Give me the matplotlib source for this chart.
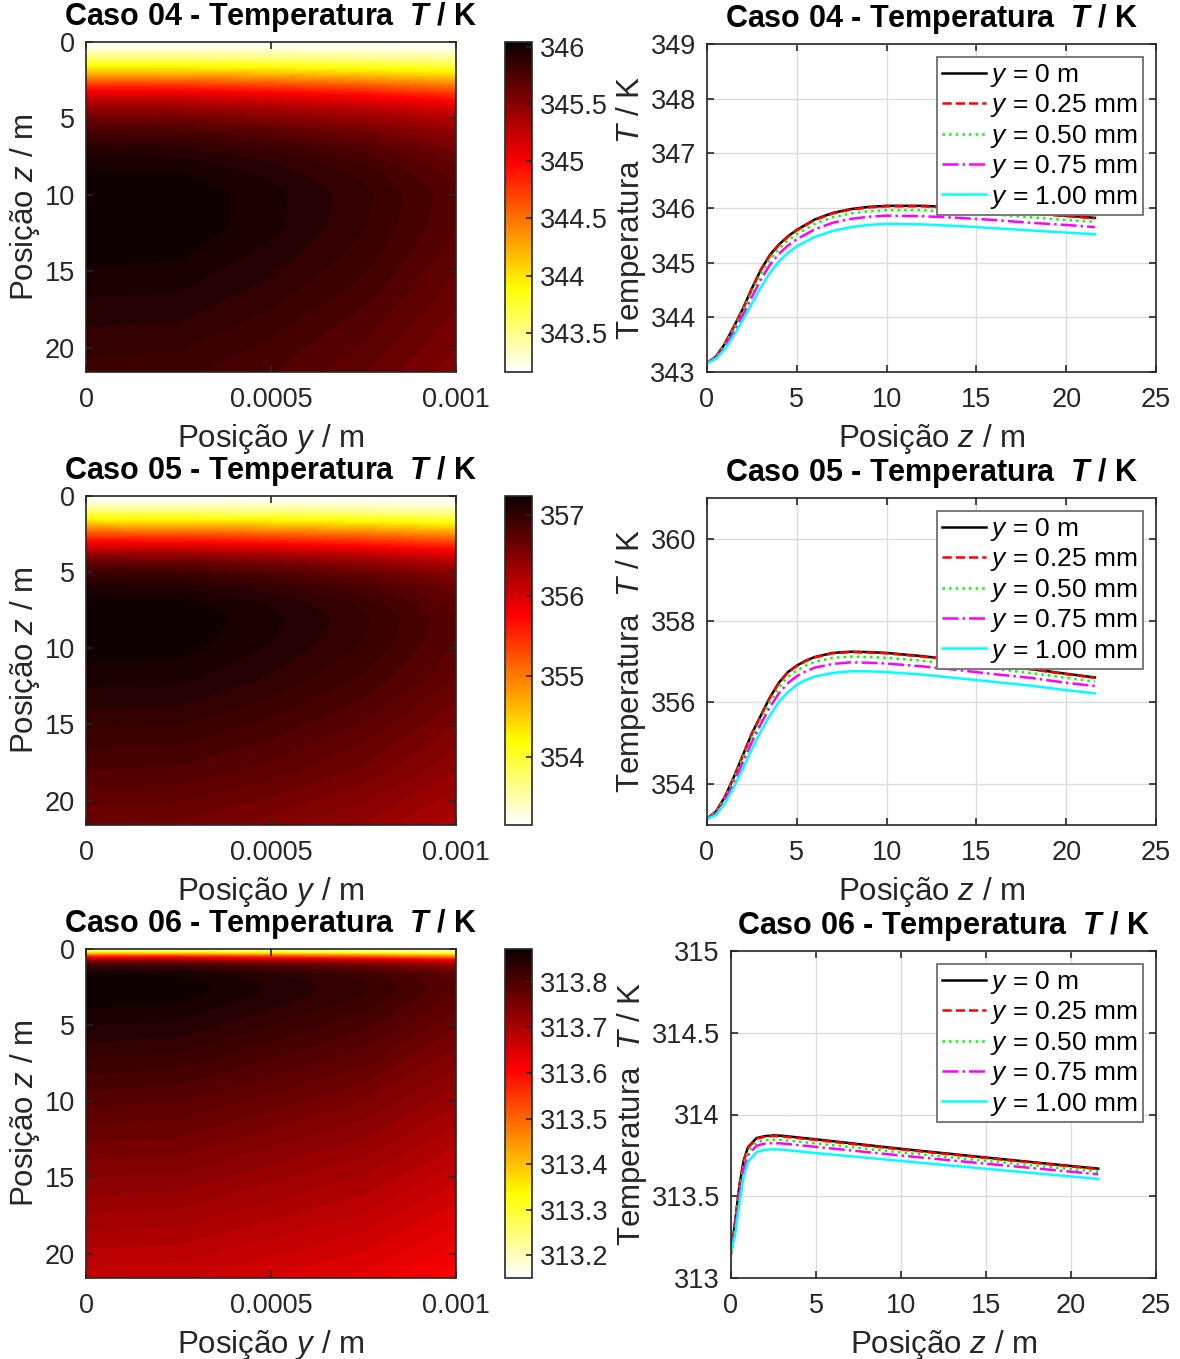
import numpy as np
import matplotlib
matplotlib.use("Agg")
import matplotlib.pyplot as plt
from matplotlib import colors, ticker
from matplotlib.cm import ScalarMappable

plt.rcParams.update({
    "font.family": ["Liberation Sans", "DejaVu Sans"],
    "mathtext.fontset": "custom",
    "mathtext.rm": "Liberation Sans",
    "mathtext.it": "Liberation Sans:italic",
    "mathtext.bf": "Liberation Sans:bold",
    "mathtext.bfit": "Liberation Sans:bold:italic",
    "axes.edgecolor": "#262626",
    "axes.linewidth": 1.2,
    "xtick.color": "#262626",
    "ytick.color": "#262626",
    "axes.labelcolor": "#262626",
})

# Transverse positions of the profiles (m) and their legend entries
y_pos = [0.0, 0.25e-3, 0.50e-3, 0.75e-3, 1.00e-3]
series_labels = ["$y$ = 0 m", "$y$ = 0.25 mm", "$y$ = 0.50 mm",
                 "$y$ = 0.75 mm", "$y$ = 1.00 mm"]

# ---- Caso 04 ----
z04 = [0, 0.5, 1, 1.5, 2, 2.5, 3, 3.5, 4, 4.5, 5, 6, 7, 8, 9, 10, 12, 14, 16, 18, 20, 21.6]
T04_y000 = [343.16, 343.28, 343.52, 343.83, 344.16, 344.53, 344.87, 345.14, 345.33, 345.48, 345.60,
            345.79, 345.91, 345.98, 346.02, 346.04, 346.04, 346.01, 345.96, 345.91, 345.86, 345.82]
T04_y025 = [343.16, 343.28, 343.52, 343.83, 344.15, 344.52, 344.86, 345.13, 345.32, 345.47, 345.59,
            345.78, 345.90, 345.97, 346.01, 346.03, 346.03, 346.00, 345.95, 345.90, 345.85, 345.81]
T04_y050 = [343.16, 343.27, 343.50, 343.79, 344.11, 344.46, 344.79, 345.06, 345.25, 345.40, 345.52,
            345.71, 345.83, 345.90, 345.94, 345.96, 345.96, 345.92, 345.88, 345.83, 345.78, 345.75]
T04_y075 = [343.16, 343.26, 343.46, 343.74, 344.04, 344.37, 344.69, 344.96, 345.16, 345.31, 345.43,
            345.61, 345.73, 345.80, 345.84, 345.86, 345.85, 345.82, 345.78, 345.73, 345.69, 345.65]
T04_y100 = [343.16, 343.24, 343.42, 343.67, 343.95, 344.25, 344.55, 344.81, 345.02, 345.18, 345.30,
            345.47, 345.58, 345.65, 345.69, 345.71, 345.70, 345.67, 345.63, 345.59, 345.55, 345.52]

# ---- Caso 05 ----
z05 = [0, 0.5, 1, 1.5, 2, 2.5, 3, 3.5, 4, 4.5, 5, 5.5, 6, 7, 8, 9, 10, 12, 14, 16, 18, 20, 21.6]
T05_y000 = [353.15, 353.33, 353.69, 354.18, 354.71, 355.24, 355.68, 356.12, 356.48, 356.74, 356.90, 357.02,
            357.11, 357.21, 357.24, 357.23, 357.21, 357.13, 357.03, 356.92, 356.82, 356.70, 356.61]
T05_y025 = [353.15, 353.33, 353.68, 354.17, 354.70, 355.23, 355.67, 356.11, 356.47, 356.73, 356.89, 357.01,
            357.10, 357.20, 357.23, 357.22, 357.20, 357.12, 357.02, 356.91, 356.81, 356.69, 356.60]
T05_y050 = [353.15, 353.31, 353.65, 354.12, 354.63, 355.14, 355.58, 356.01, 356.36, 356.62, 356.78, 356.90,
            356.99, 357.09, 357.12, 357.11, 357.09, 357.02, 356.92, 356.82, 356.72, 356.60, 356.51]
T05_y075 = [353.15, 353.28, 353.60, 354.04, 354.53, 355.03, 355.47, 355.88, 356.22, 356.47, 356.64, 356.76,
            356.85, 356.94, 356.98, 356.97, 356.95, 356.88, 356.79, 356.69, 356.60, 356.48, 356.40]
T05_y100 = [353.15, 353.24, 353.53, 353.93, 354.38, 354.86, 355.29, 355.68, 356.01, 356.25, 356.43, 356.55,
            356.63, 356.72, 356.76, 356.76, 356.74, 356.68, 356.59, 356.50, 356.41, 356.30, 356.22]

# ---- Caso 06 ----
z06 = [0, 0.25, 0.5, 0.75, 1, 1.5, 2, 2.5, 3, 5, 10, 15, 20, 21.6]
T06_y000 = [313.150, 313.350, 313.570, 313.720, 313.800, 313.856, 313.868, 313.872, 313.870, 313.848,
            313.790, 313.737, 313.685, 313.669]
T06_y025 = [313.150, 313.346, 313.565, 313.715, 313.796, 313.852, 313.864, 313.868, 313.866, 313.844,
            313.786, 313.734, 313.682, 313.666]
T06_y050 = [313.150, 313.326, 313.537, 313.690, 313.773, 313.830, 313.843, 313.846, 313.844, 313.823,
            313.768, 313.716, 313.666, 313.650]
T06_y075 = [313.150, 313.306, 313.509, 313.665, 313.750, 313.809, 313.822, 313.825, 313.823, 313.802,
            313.749, 313.699, 313.650, 313.634]
T06_y100 = [313.150, 313.270, 313.460, 313.620, 313.710, 313.770, 313.785, 313.787, 313.785, 313.764,
            313.716, 313.668, 313.621, 313.606]

cases = [
    dict(name="04", z=z04, T=[T04_y000, T04_y025, T04_y050, T04_y075, T04_y100],
         ylim=(343, 349), yticks=[343, 344, 345, 346, 347, 348, 349],
         cticks=[343.5, 344, 344.5, 345, 345.5, 346]),
    dict(name="05", z=z05, T=[T05_y000, T05_y025, T05_y050, T05_y075, T05_y100],
         ylim=(353, 361), yticks=[354, 356, 358, 360],
         cticks=[354, 355, 356, 357]),
    dict(name="06", z=z06, T=[T06_y000, T06_y025, T06_y050, T06_y075, T06_y100],
         ylim=(313, 315), yticks=[313, 313.5, 314, 314.5, 315],
         cticks=[313.2, 313.3, 313.4, 313.5, 313.6, 313.7, 313.8]),
]

line_styles = [("k", "-"), ("#FF0000", "--"), ("#00FF00", ":"), ("#FF00FF", "-."), ("#00FFFF", "-")]

W, H = 1180, 1359
fig = plt.figure(figsize=(W / 100, H / 100), dpi=100)


def px_axes(x0, y0, x1, y1):
    return fig.add_axes([x0 / W, 1 - y1 / H, (x1 - x0) / W, (y1 - y0) / H])


TICK = 19.5
LABEL = 22.5
TITLE = 22
LEGEND = 19
TITLE_PAD = 12

rows = [(42, 372), (496, 825), (949, 1278)]
right_left = [707, 707, 731]

g = "%g"

for case, (top, bot), rl in zip(cases, rows, right_left):
    z = np.array(case["z"])
    Tm = np.column_stack(case["T"])
    Y, Z = np.meshgrid(np.array(y_pos), z)
    vmin, vmax = Tm.min(), Tm.max()
    norm = colors.Normalize(vmin=vmin, vmax=vmax)

    # Temperature field
    ax = px_axes(86, top, 456, bot)
    ax.contourf(Y, Z, Tm, levels=np.linspace(vmin, vmax, 60), cmap="hot_r", norm=norm)
    ax.set_xlim(0, 1e-3)
    ax.set_ylim(z[-1], 0)
    ax.set_xticks([0, 0.0005, 0.001])
    ax.set_xticklabels(["0", "0.0005", "0.001"])
    ax.set_yticks([0, 5, 10, 15, 20])
    ax.tick_params(direction="in", top=True, right=True, labelsize=TICK, length=5, width=1.2)
    ax.tick_params(axis="x", pad=11)
    ax.tick_params(axis="y", pad=8)
    ax.set_xlabel("Posição $y$ / m", fontsize=LABEL, labelpad=6)
    ax.set_ylabel("Posição $z$ / m", fontsize=LABEL, labelpad=2)
    ax.set_title(f"Caso {case['name']} - Temperatura  $\\mathbfit{{T}}$ / K",
                 fontsize=TITLE, fontweight="bold", pad=TITLE_PAD)

    cax = px_axes(505, top, 532, bot)
    cb = fig.colorbar(ScalarMappable(norm=norm, cmap="hot_r"), cax=cax)
    cb.set_ticks(case["cticks"])
    cb.ax.yaxis.set_major_formatter(ticker.FormatStrFormatter(g))
    cb.ax.tick_params(direction="in", labelsize=TICK, length=4, width=1.2, pad=6)
    cb.outline.set_linewidth(1.2)
    cb.outline.set_edgecolor("#262626")

    # Axial profiles
    ax2 = px_axes(rl, top + 2, 1156, bot)
    for T, lab, (c, ls) in zip(case["T"], series_labels, line_styles):
        ax2.plot(z, T, color=c, linestyle=ls, linewidth=1.8, label=lab)
    ax2.set_xlim(0, 25)
    ax2.set_ylim(*case["ylim"])
    ax2.set_xticks([0, 5, 10, 15, 20, 25])
    ax2.set_yticks(case["yticks"])
    ax2.yaxis.set_major_formatter(ticker.FormatStrFormatter(g))
    ax2.grid(True, color="#dcdcdc", linewidth=1.0)
    ax2.set_axisbelow(True)
    ax2.tick_params(direction="in", top=True, right=True, labelsize=TICK, length=5, width=1.2)
    ax2.tick_params(axis="x", pad=11)
    ax2.tick_params(axis="y", pad=8)
    ax2.set_xlabel("Posição $z$ / m", fontsize=LABEL, labelpad=6)
    ax2.set_ylabel("Temperatura  $T$ / K", fontsize=LABEL, labelpad=2)
    ax2.set_title(f"Caso {case['name']} - Temperatura  $\\mathbfit{{T}}$ / K",
                  fontsize=TITLE, fontweight="bold", pad=TITLE_PAD)
    leg = ax2.legend(loc="upper right", fontsize=LEGEND, frameon=True, fancybox=False,
                     framealpha=1, edgecolor="#707070", handlelength=1.7,
                     handletextpad=0.15, labelspacing=0.13, borderpad=0.18,
                     borderaxespad=0.5)
    leg.get_frame().set_linewidth(1.3)

fig.savefig("out.png", dpi=100)
